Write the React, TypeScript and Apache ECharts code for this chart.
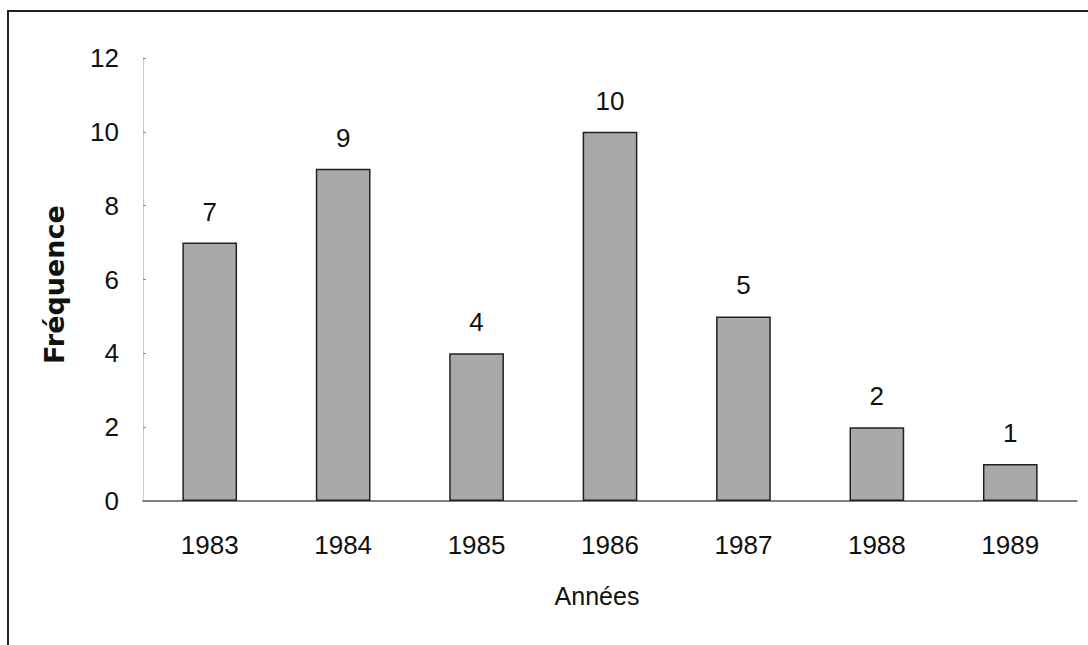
import React, { useEffect, useRef } from "react";
import * as echarts from "echarts";

const years = ["1983", "1984", "1985", "1986", "1987", "1988", "1989"];
const frequencies = [7, 9, 4, 10, 5, 2, 1];
const yTicks = { min: 0, max: 12, interval: 2 };

export default function App() {
  const ref = useRef<HTMLDivElement>(null);
  useEffect(() => {
    if (!ref.current) return;
    const chart = echarts.init(ref.current, null, { renderer: "svg" });
    const font = "Liberation Sans, Arial, sans-serif";
    chart.setOption({
      animation: false,
      backgroundColor: "#ffffff",
      grid: { left: 143, right: 11, top: 58, bottom: 144, containLabel: false },
      graphic: [
        { type: "line", shape: { x1: 7, y1: 11, x2: 1088, y2: 11 }, style: { stroke: "#222", lineWidth: 2 } },
        { type: "line", shape: { x1: 8, y1: 10, x2: 8, y2: 645 }, style: { stroke: "#222", lineWidth: 2 } },
      ],
      xAxis: {
        type: "category",
        data: years,
        name: "Années",
        nameLocation: "middle",
        nameGap: 82,
        nameTextStyle: { fontFamily: font, fontSize: 25, color: "#111", padding: [0, 26, 0, 0] },
        axisLine: { show: true, lineStyle: { color: "#555", width: 1.5 } },
        axisTick: { show: false },
        axisLabel: { fontFamily: font, fontSize: 26, color: "#111", margin: 31 },
      },
      yAxis: {
        type: "value",
        min: yTicks.min,
        max: yTicks.max,
        interval: yTicks.interval,
        name: "Fréquence",
        nameLocation: "middle",
        nameGap: 75,
        nameTextStyle: { fontFamily: "DejaVu Sans, sans-serif", fontSize: 27, fontWeight: "bold", color: "#111", padding: [0, 10, 0, 0] },
        axisLine: { show: true, lineStyle: { color: "#cccccc", width: 1 } },
        axisTick: { show: true, length: 3, inside: true, lineStyle: { color: "#888" } },
        splitLine: { show: false },
        axisLabel: { fontFamily: font, fontSize: 26, color: "#111", margin: 24 },
      },
      series: [
        {
          type: "bar",
          data: frequencies,
          barWidth: "41%",
          itemStyle: { color: "#a9a9a9", borderColor: "#222", borderWidth: 1.5 },
          label: {
            show: true,
            position: "top",
            distance: 18,
            fontFamily: font,
            fontSize: 26,
            color: "#111",
          },
        },
      ],
    });
    return () => chart.dispose();
  }, []);
  return (
    <div
      ref={ref}
      style={{ position: "absolute", left: 0, top: 0, width: 1088, height: 645 }}
    />
  );
}
